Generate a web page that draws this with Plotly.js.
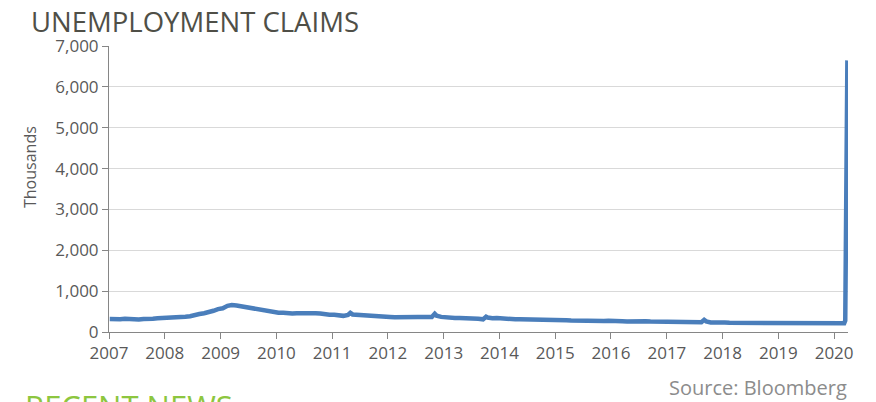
<!DOCTYPE html>
<html>
<head>
<meta charset="utf-8">
<script src="https://cdn.plot.ly/plotly-3.0.1.min.js"></script>
<style>
html,body{margin:0;padding:0;background:#fff;}
#chart{width:876px;height:402px;}
</style>
</head>
<body>
<div id="chart"></div>
<script>
// Monthly readings (thousands), one row per year, Jan..Dec
const years = [2007, 2008, 2009, 2010, 2011, 2012, 2013, 2014, 2015, 2016, 2017, 2018, 2019];
const monthlyClaims = [
  [315, 330, 315, 325, 310, 315, 305, 320, 315, 325, 335, 340],
  [330, 355, 365, 370, 375, 385, 400, 440, 460, 480, 520, 560],
  [580, 640, 660, 650, 630, 610, 575, 570, 550, 530, 490, 475],
  [470, 470, 455, 455, 460, 460, 460, 480, 460, 450, 430, 420],
  [420, 400, 395, 420, 430, 425, 410, 410, 415, 400, 395, 375],
  [370, 360, 365, 380, 375, 380, 370, 370, 370, 365, 400, 370],
  [355, 345, 345, 345, 345, 345, 340, 325, 310, 355, 335, 345],
  [330, 335, 320, 310, 310, 310, 295, 300, 295, 285, 290, 295],
  [300, 295, 285, 280, 275, 275, 270, 275, 265, 260, 270, 275],
  [280, 270, 265, 260, 265, 265, 260, 265, 255, 255, 250, 260],
  [245, 245, 245, 240, 240, 245, 245, 240, 260, 235, 240, 235],
  [230, 225, 225, 225, 220, 220, 215, 210, 210, 215, 220, 220],
  [220, 225, 215, 210, 215, 220, 215, 215, 215, 215, 220, 215]
];
// Individual weekly spikes visible on the chart
const spikeDates = ['2011-04-30', '2012-11-03', '2013-10-05', '2017-09-02'];
const spikeClaims = [470, 445, 375, 298];
// Final weeks of the series (2020)
const lastDates = ['2020-01-15', '2020-02-15', '2020-03-07', '2020-03-14', '2020-03-21', '2020-03-28'];
const lastClaims = [215, 215, 216, 282, 3307, 6648];

const yTicks = [0, 1000, 2000, 3000, 4000, 5000, 6000, 7000];
const yTickText = ['0', '1,000', '2,000', '3,000', '4,000', '5,000', '6,000', '7,000'];

const titleText = 'UNEMPLOYMENT CLAIMS';
const yTitle = 'Thousands';
const sourceText = 'Source: Bloomberg';
const nextSection = 'RECENT NEWS';

// build series
let pts = [];
years.forEach((yr, i) => {
  monthlyClaims[i].forEach((v, m) => {
    const mm = String(m + 1).padStart(2, '0');
    pts.push([yr + '-' + mm + '-15', v]);
  });
});
spikeDates.forEach((d, i) => pts.push([d, spikeClaims[i]]));
pts.sort((a, b) => a[0] < b[0] ? -1 : a[0] > b[0] ? 1 : 0);
lastDates.forEach((d, i) => pts.push([d, lastClaims[i]]));
pts.unshift(['2007-01-06', 318]);

const trace = {
  x: pts.map(p => p[0]),
  y: pts.map(p => p[1]),
  type: 'scatter',
  mode: 'lines',
  line: {color: '#4a7ebb', width: 4.5},
  hoverinfo: 'skip'
};

const W = 876, H = 402;
const L = 109, R = 28, T = 46, B = 70;
const pw = W - L - R, ph = H - T - B;
const px = x => (x - L) / pw;
const py = y => (H - B - y) / ph;

const font = '"Open Sans", "Noto Sans", sans-serif';

const layout = {
  width: W, height: H,
  margin: {l: L, r: R, t: T, b: B, pad: 0},
  paper_bgcolor: '#ffffff',
  plot_bgcolor: '#ffffff',
  showlegend: false,
  font: {family: font, color: '#595959', size: 17},
  xaxis: {
    type: 'date',
    range: ['2007-01-01', '2020-04-01'],
    tick0: '2007-01-01',
    dtick: 'M12',
    tickformat: '%Y',
    showgrid: false,
    zeroline: false,
    showline: true,
    linecolor: '#868686',
    linewidth: 1,
    ticks: 'outside',
    ticklen: 6,
    tickcolor: '#868686',
    tickfont: {family: font, size: 17, color: '#595959'}
  },
  yaxis: {
    range: [0, 7000],
    tickvals: yTicks,
    ticktext: yTickText,
    showgrid: true,
    gridcolor: '#d9d9d9',
    gridwidth: 1,
    zeroline: false,
    showline: true,
    linecolor: '#868686',
    linewidth: 1,
    ticks: 'outside',
    ticklen: 6,
    tickcolor: '#868686',
    tickfont: {family: font, size: 17, color: '#595959'}
  },
  annotations: [
    {text: titleText, xref: 'paper', yref: 'paper', x: px(29), y: py(1),
     xanchor: 'left', yanchor: 'top', showarrow: false,
     font: {family: font, size: 27.5, color: '#4f4f47'}},
    {text: yTitle, xref: 'paper', yref: 'paper', x: px(30), y: py(167),
     xanchor: 'center', yanchor: 'middle', textangle: -90, showarrow: false,
     font: {family: font, size: 16, color: '#595959'}},
    {text: sourceText, xref: 'paper', yref: 'paper', x: px(849), y: py(387),
     xanchor: 'right', yanchor: 'middle', showarrow: false,
     font: {family: font, size: 20, color: '#8c8c8c'}},
    {text: nextSection, xref: 'paper', yref: 'paper', x: px(23), y: py(383),
     xanchor: 'left', yanchor: 'top', showarrow: false,
     font: {family: font, size: 31, color: '#8dc63f'}}
  ]
};

Plotly.newPlot('chart', [trace], layout, {displayModeBar: false, staticPlot: true});
</script>
</body>
</html>
